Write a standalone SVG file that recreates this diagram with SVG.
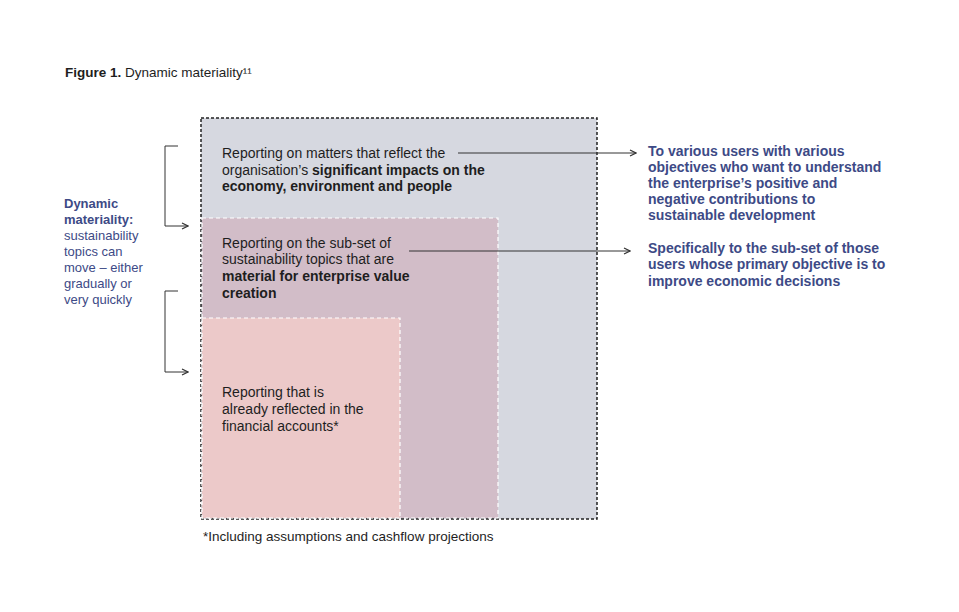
<svg xmlns="http://www.w3.org/2000/svg" width="959" height="612" viewBox="0 0 959 612">
<style>
text{font-family:"Liberation Sans",Arial,sans-serif;font-size:14px;fill:#1e1e1e}
.b{font-weight:bold}
.blue{fill:#3d4a86;font-weight:bold}
.blt{fill:#3d4a86;font-size:13px}
.bl13{fill:#3d4a86;font-weight:bold;font-size:13px}
.ln{stroke:#333;stroke-width:1;fill:none}
</style>
<defs><marker id="a" markerWidth="8" markerHeight="8" refX="7" refY="4" orient="auto" markerUnits="userSpaceOnUse"><path d="M1,1 L7,4 L1,7" fill="none" stroke="#333" stroke-width="1.2"/></marker></defs>
<text x="65" y="77" style="font-size:13.5px"><tspan class="b">Figure 1.</tspan> Dynamic materiality¹¹</text>
<g id="outer"><rect x="201" y="118" width="396" height="401" fill="#d6d8e0" stroke="#222" stroke-width="1.5" stroke-dasharray="3,2"/>
<text x="222" y="158">Reporting on matters that reflect the</text>
<text x="222" y="175">organisation’s <tspan class="b">significant impacts on the</tspan></text>
<text x="222" y="191" class="b">economy, environment and people</text></g>
<g id="middle"><rect x="202" y="218" width="296" height="300" fill="#d2bdc8" stroke="#fff" stroke-width="1.2" stroke-dasharray="4,3"/>
<text x="222" y="248">Reporting on the sub-set of</text>
<text x="222" y="264">sustainability topics that are</text>
<text x="222" y="281" class="b">material for enterprise value</text>
<text x="222" y="298" class="b">creation</text></g>
<g id="inner"><rect x="202" y="318" width="198" height="200" fill="#ecc9c9" stroke="#fff" stroke-width="1.2" stroke-dasharray="4,3"/>
<text x="222" y="397">Reporting that is</text>
<text x="222" y="414">already reflected in the</text>
<text x="222" y="431">financial accounts*</text></g>
<g id="left"><text x="64" y="208" class="bl13">Dynamic</text><text x="64" y="224" class="bl13">materiality:</text>
<text x="64" y="240" class="blt">sustainability</text><text x="64" y="256" class="blt">topics can</text><text x="64" y="272" class="blt">move – either</text><text x="64" y="288" class="blt">gradually or</text><text x="64" y="304" class="blt">very quickly</text></g>
<g id="right"><text x="648" y="156" class="blue">To various users with various</text><text x="648" y="172" class="blue">objectives who want to understand</text><text x="648" y="188" class="blue">the enterprise’s positive and</text><text x="648" y="204" class="blue">negative contributions to</text><text x="648" y="220" class="blue">sustainable development</text>
<text x="648" y="253" class="blue">Specifically to the sub-set of those</text><text x="648" y="269" class="blue">users whose primary objective is to</text><text x="648" y="286" class="blue">improve economic decisions</text></g>
<text x="203" y="541" style="font-size:13.5px">*Including assumptions and cashflow projections</text>
<g id="connectors">
<path class="ln" d="M458,153 H636" marker-end="url(#a)"/>
<path class="ln" d="M409,251 H630" marker-end="url(#a)"/>
<path class="ln" d="M178,146 H165 V226 H188" marker-end="url(#a)"/>
<path class="ln" d="M178,291 H165 V372 H188" marker-end="url(#a)"/>
</g>
</svg>
